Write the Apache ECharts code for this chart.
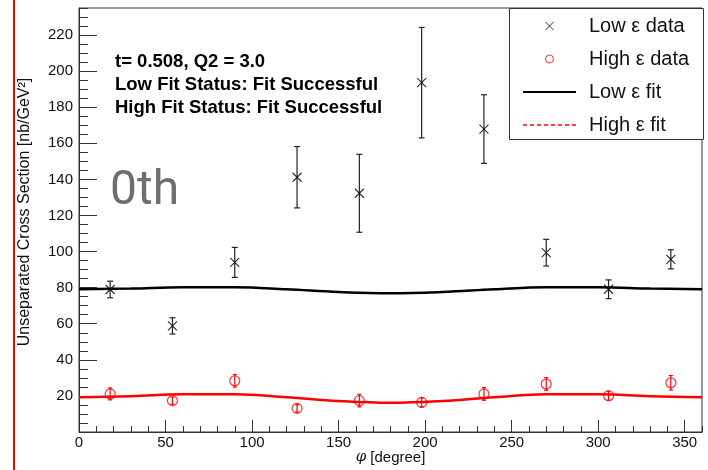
<!DOCTYPE html>
<html>
<head>
<meta charset="utf-8">
<script src="https://cdn.jsdelivr.net/npm/echarts@6/dist/echarts.min.js"></script>
<style>
html,body{margin:0;padding:0;background:#fff;}
#chart{width:708px;height:470px;}
</style>
</head>
<body>
<div id="chart"></div>
<script>
// ---- data ----
var phi = [18, 54, 90, 126, 162, 198, 234, 270, 306, 342];
var lowVal = [79.0, 58.8, 94.0, 141.2, 132.3, 193.6, 167.9, 99.4, 79.1, 95.7];
var lowErr = [4.6, 4.5, 8.3, 17.0, 21.6, 30.6, 19.0, 7.4, 5.2, 5.3];
var highVal = [21.1, 17.4, 28.4, 13.1, 17.4, 16.4, 21.1, 26.6, 20.1, 27.3];
var highErr = [3.3, 2.0, 3.5, 2.0, 3.5, 2.5, 3.5, 3.5, 2.5, 4.0];
var fitPhi = [0, 30, 60, 90, 120, 150, 180, 210, 240, 270, 300, 330, 360];
var lowFit = [79.1, 79.5, 80.2, 80.2, 79.1, 77.6, 76.9, 77.6, 79.1, 80.2, 80.2, 79.5, 79.1];
var highFit = [19.3, 19.8, 20.9, 20.9, 19.3, 17.2, 16.2, 17.2, 19.3, 20.9, 20.9, 19.8, 19.3];
var xTicks = [0, 50, 100, 150, 200, 250, 300, 350];
var yTicks = [20, 40, 60, 80, 100, 120, 140, 160, 180, 200, 220];
var infoLines = ['t= 0.508, Q2 = 3.0', 'Low Fit Status: Fit Successful', 'High Fit Status: Fit Successful'];
var names = ['Low ε data', 'High ε data', 'Low ε fit', 'High ε fit'];

function pairs(xs, ys) { return xs.map(function (x, i) { return [x, ys[i]]; }); }
function triples(xs, ys, es) { return xs.map(function (x, i) { return [x, ys[i], es[i]]; }); }

function errRender(color, cap) {
  return function (params, api) {
    var x = api.value(0), y = api.value(1), e = api.value(2);
    var top = api.coord([x, y + e]);
    var bot = api.coord([x, y - e]);
    var st = { stroke: color, lineWidth: 1.2 };
    return {
      type: 'group',
      children: [
        { type: 'line', shape: { x1: top[0], y1: top[1], x2: bot[0], y2: bot[1] }, style: st },
        { type: 'line', shape: { x1: top[0] - cap, y1: top[1], x2: top[0] + cap, y2: top[1] }, style: st },
        { type: 'line', shape: { x1: bot[0] - cap, y1: bot[1], x2: bot[0] + cap, y2: bot[1] }, style: st }
      ]
    };
  };
}

var FONT = 'Liberation Sans';
var chart = echarts.init(document.getElementById('chart'), null, { renderer: 'canvas' });
var crossPath = 'path://M0,0L10,10M10,0L0,10';

var option = {
  animation: false,
  backgroundColor: '#fff',
  textStyle: { fontFamily: FONT },
  grid: { left: 79, top: 8, width: 623, height: 424, show: true, borderColor: '#333', borderWidth: 1,
    containLabel: false, outerBoundsMode: 'none' },
  xAxis: [
    {
      type: 'value', min: 0, max: 360, interval: 50, position: 'bottom',
      name: '{i|φ} [degree]', nameLocation: 'middle', nameGap: 18, nameMoveOverlap: false,
      nameTextStyle: { fontFamily: FONT, fontSize: 15, color: '#111',
        rich: { i: { fontFamily: 'DejaVu Serif', fontStyle: 'italic', fontSize: 15, color: '#111' } } },
      axisLine: { show: true, lineStyle: { color: '#333', width: 1 } },
      axisTick: { show: true, inside: true, length: 12, lineStyle: { color: '#333', width: 1 } },
      axisLabel: { show: true, margin: 3, fontFamily: FONT, fontSize: 15, color: '#111', showMaxLabel: false,
        formatter: function (v) { return xTicks.indexOf(v) >= 0 ? String(v) : ''; } },
      splitLine: { show: false }
    },
    {
      type: 'value', min: 0, max: 360, interval: 10, position: 'bottom', offset: 0,
      axisLine: { show: false },
      axisTick: { show: true, inside: true, length: 6, lineStyle: { color: '#333', width: 1 } },
      axisLabel: { show: false }, splitLine: { show: false }
    }
  ],
  yAxis: [
    {
      type: 'value', min: 0, max: 235, interval: 20, position: 'left',
      axisLine: { show: true, lineStyle: { color: '#333', width: 1 } },
      axisTick: { show: true, inside: true, length: 18, lineStyle: { color: '#333', width: 1 } },
      axisLabel: { show: true, margin: 6, fontFamily: FONT, fontSize: 15, color: '#111',
        showMinLabel: false, showMaxLabel: false,
        formatter: function (v) { return yTicks.indexOf(v) >= 0 ? String(v) : ''; } },
      splitLine: { show: false }
    },
    {
      type: 'value', min: 0, max: 235, interval: 5, position: 'left', offset: 0,
      axisLine: { show: false },
      axisTick: { show: true, inside: true, length: 9, lineStyle: { color: '#333', width: 1 } },
      axisLabel: { show: false }, splitLine: { show: false }
    }
  ],
  legend: {
    orient: 'vertical', left: 522, top: 16, padding: 0, z: 20,
    itemWidth: 53, itemHeight: 8, itemGap: 13,
    textStyle: { fontFamily: FONT, fontSize: 20, color: '#111', padding: [0, 0, 0, 8] },
    selectedMode: false,
    data: [
      { name: names[0], icon: crossPath, itemStyle: { borderWidth: 1 } },
      { name: names[1], icon: 'circle', itemStyle: { borderWidth: 1 } },
      { name: names[2], itemStyle: { opacity: 0 }, lineStyle: { width: 2, color: '#000' } },
      { name: names[3], itemStyle: { opacity: 0 }, lineStyle: { type: [4, 3], width: 1.5, color: '#ff0000' } }
    ]
  },
  graphic: [
    { type: 'line', shape: { x1: 14, y1: 0, x2: 14, y2: 470 }, style: { stroke: '#ff0000', lineWidth: 2 }, z: 100 },
    { type: 'rect', shape: { x: 509.5, y: 8.5, width: 194, height: 131 }, style: { fill: '#fff', stroke: '#333', lineWidth: 1 }, z: 1 },
    { type: 'text', left: 115, top: 50, z: 10,
      style: { text: infoLines.join('\n'), font: 'bold 18.5px "Liberation Sans"', fill: '#000', lineHeight: 23.3 } },
    { type: 'text', left: 110, top: 168, z: 10,
      style: { text: '0th', font: '48px Roboto', fill: '#6e6e6e' } },
    { type: 'text', x: 25, y: 212, rotation: Math.PI / 2, z: 10,
      style: { text: 'Unseparated Cross Section [nb/GeV²]', font: '16px "Liberation Sans"', fill: '#111', align: 'center', verticalAlign: 'middle' } }
  ],
  series: [
    {
      name: names[2], type: 'line', xAxisIndex: 0, yAxisIndex: 0, data: pairs(fitPhi, lowFit),
      smooth: 0.4, symbol: 'none', lineStyle: { color: '#000', width: 2.5 }, itemStyle: { color: '#000' }, z: 3
    },
    {
      name: names[3], type: 'line', xAxisIndex: 0, yAxisIndex: 0, data: pairs(fitPhi, highFit),
      smooth: 0.4, symbol: 'none', lineStyle: { color: '#ff0000', width: 2.5 }, itemStyle: { color: '#ff0000' }, z: 3
    },
    {
      name: 'lowErr', type: 'custom', xAxisIndex: 0, yAxisIndex: 0, data: triples(phi, lowVal, lowErr),
      renderItem: errRender('#222', 3), clip: true, z: 4
    },
    {
      name: 'highErr', type: 'custom', xAxisIndex: 0, yAxisIndex: 0, data: triples(phi, highVal, highErr),
      renderItem: errRender('#ff0000', 2), clip: true, z: 4
    },
    {
      name: names[0], type: 'scatter', xAxisIndex: 0, yAxisIndex: 0, data: pairs(phi, lowVal),
      symbol: crossPath, symbolSize: 9,
      itemStyle: { color: 'transparent', borderColor: '#000', borderWidth: 1.2 }, z: 5
    },
    {
      name: names[1], type: 'scatter', xAxisIndex: 0, yAxisIndex: 0, data: pairs(phi, highVal),
      symbol: 'circle', symbolSize: 10,
      itemStyle: { color: 'transparent', borderColor: '#ff0000', borderWidth: 1.2 }, z: 5
    }
  ]
};
chart.setOption(option);
</script>
</body>
</html>
